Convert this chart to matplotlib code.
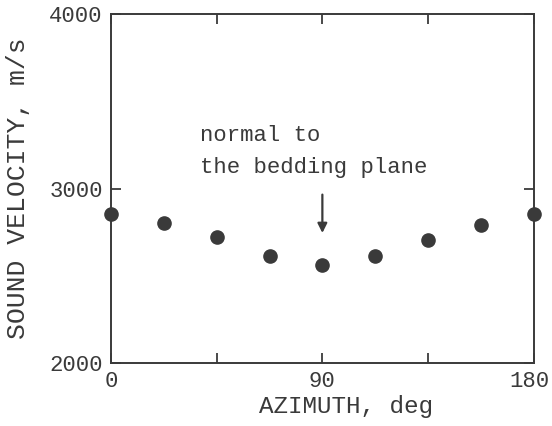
import matplotlib
matplotlib.use("Agg")
import matplotlib.pyplot as plt
from matplotlib.transforms import ScaledTranslation

# data
azimuth = [0, 22.5, 45, 67.5, 90, 112.5, 135, 157.5, 180]
velocity = [2855, 2805, 2720, 2612, 2560, 2615, 2705, 2790, 2852]

x_ticks = [0, 45, 90, 135, 180]
x_labels = ["0", "", "90", "", "180"]
y_ticks = [2000, 3000, 4000]
y_labels = ["2000", "3000", "4000"]

ink = "#3a3a3a"
font = "Liberation Mono"

fig = plt.figure(figsize=(5.52, 4.26), dpi=100)
ax = fig.add_axes([0.201, 0.148, 0.766, 0.819])

ax.plot(azimuth, velocity, "o", color=ink, markersize=9.5, clip_on=False, zorder=3)

ax.set_xlim(0, 180)
ax.set_ylim(2000, 4000)
ax.set_xticks(x_ticks)
ax.set_xticklabels(x_labels, family=font, fontsize=16, color=ink)
ax.set_yticks(y_ticks)
ax.set_yticklabels(y_labels, family=font, fontsize=16, color=ink)
ax.tick_params(direction="in", top=True, right=True, length=7, width=1.3,
               color=ink, pad=6)
ax.tick_params(axis="x", pad=6)

# nudge the last x label in a little so it stays on the page
last = ax.get_xticklabels()[-1]
last.set_transform(last.get_transform() + ScaledTranslation(-4 / 100, 0, fig.dpi_scale_trans))

for s in ax.spines.values():
    s.set_color(ink)
    s.set_linewidth(1.4)

ax.set_xlabel("AZIMUTH, deg", family=font, fontsize=17.5, color=ink, labelpad=2, x=0.555)
ax.set_ylabel("SOUND VELOCITY, m/s", family=font, fontsize=19, color=ink, labelpad=14)

ax.text(38, 3305, "normal to", family=font, fontsize=16, color=ink, va="center")
ax.text(38, 3120, "the bedding plane", family=font, fontsize=16, color=ink, va="center")
ax.annotate("", xy=(90, 2745), xytext=(90, 2965),
            arrowprops=dict(arrowstyle="-|>", color=ink, lw=1.6,
                            mutation_scale=14, shrinkA=0, shrinkB=0))

fig.savefig("out.png", dpi=100)
